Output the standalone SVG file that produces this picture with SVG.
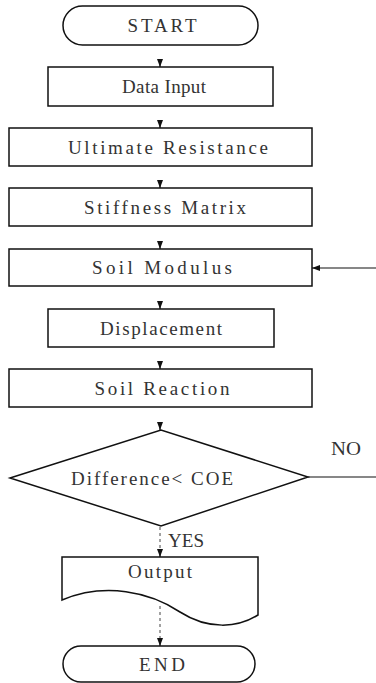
<svg xmlns="http://www.w3.org/2000/svg" width="376" height="683" viewBox="0 0 376 683">
<defs>
<marker id="ah" viewBox="0 0 8 6" refX="8" refY="3" markerWidth="8" markerHeight="6" orient="auto" markerUnits="userSpaceOnUse">
<path d="M0,0 L8,3 L0,6 Z" fill="#111"/>
</marker>
<style>
.s{fill:#fff;stroke:#111;stroke-width:1.5}
.t{font-family:'Liberation Serif','DejaVu Serif','Times New Roman',serif;font-size:19px;fill:#333;text-anchor:middle}
.c{fill:none;stroke:#111;stroke-width:1.2}
.d{fill:none;stroke:#444;stroke-width:1;stroke-dasharray:3 3}
</style>
</defs>
<rect width="376" height="683" fill="#fff"/>
<g id="connectors">
<line class="c" x1="160" y1="59" x2="160" y2="67" marker-end="url(#ah)"/>
<line class="c" x1="160" y1="120" x2="160" y2="128" marker-end="url(#ah)"/>
<line class="c" x1="160" y1="180" x2="160" y2="188" marker-end="url(#ah)"/>
<line class="c" x1="160" y1="241" x2="160" y2="249" marker-end="url(#ah)"/>
<line class="c" x1="160" y1="301" x2="160" y2="309" marker-end="url(#ah)"/>
<line class="c" x1="160" y1="361" x2="160" y2="369" marker-end="url(#ah)"/>
<line class="c" x1="160" y1="422" x2="160" y2="430" marker-end="url(#ah)"/>
<line class="d" x1="160" y1="527" x2="160" y2="550"/>
<line class="c" x1="160" y1="549" x2="160" y2="557" marker-end="url(#ah)"/>
<line class="d" x1="160" y1="606" x2="160" y2="638"/>
<line class="c" x1="160" y1="638" x2="160" y2="646" marker-end="url(#ah)"/>
<line class="c" x1="376" y1="268" x2="312" y2="268" marker-end="url(#ah)"/>
<line class="c" x1="308" y1="477" x2="376" y2="477"/>
<text class="t" x="346" y="455" textLength="30" lengthAdjust="spacingAndGlyphs">NO</text>
<text class="t" x="186" y="547" textLength="36" lengthAdjust="spacingAndGlyphs">YES</text>
</g>
<g id="start">
<rect class="s" x="63" y="6" width="195" height="39" rx="19.5"/>
<text class="t" x="162" y="32" textLength="69" lengthAdjust="spacing">START</text>
</g>
<g id="data-input">
<rect class="s" x="48" y="67" width="225" height="39"/>
<text class="t" x="164" y="93" textLength="84" lengthAdjust="spacing">Data Input</text>
</g>
<g id="ultimate-resistance">
<rect class="s" x="9" y="128" width="303" height="38"/>
<text class="t" x="168" y="154" textLength="200" lengthAdjust="spacing">Ultimate Resistance</text>
</g>
<g id="stiffness-matrix">
<rect class="s" x="9" y="188" width="303" height="38"/>
<text class="t" x="165" y="214" textLength="162" lengthAdjust="spacing">Stiffness Matrix</text>
</g>
<g id="soil-modulus">
<rect class="s" x="9" y="249" width="303" height="37"/>
<text class="t" x="162" y="274" textLength="140" lengthAdjust="spacing">Soil Modulus</text>
</g>
<g id="displacement">
<rect class="s" x="48" y="309" width="226" height="38"/>
<text class="t" x="161" y="335" textLength="122" lengthAdjust="spacing">Displacement</text>
</g>
<g id="soil-reaction">
<rect class="s" x="9" y="369" width="303" height="38"/>
<text class="t" x="162" y="395" textLength="135" lengthAdjust="spacing">Soil Reaction</text>
</g>
<g id="decision">
<polygon class="s" points="10,478 161,430 308,477 161,526"/>
<text class="t" x="152" y="485" textLength="162" lengthAdjust="spacing">Difference&lt; COE</text>
</g>
<g id="output">
<path class="s" d="M62,557 H258 V615 C238,628 208,630 180,612 C150,592 105,582 62,600 Z"/>
<text class="t" x="160" y="578" textLength="64" lengthAdjust="spacing">Output</text>
</g>
<g id="end">
<rect class="s" x="63" y="646" width="192" height="36" rx="18"/>
<text class="t" x="162" y="671" textLength="46" lengthAdjust="spacing">END</text>
</g>
</svg>
